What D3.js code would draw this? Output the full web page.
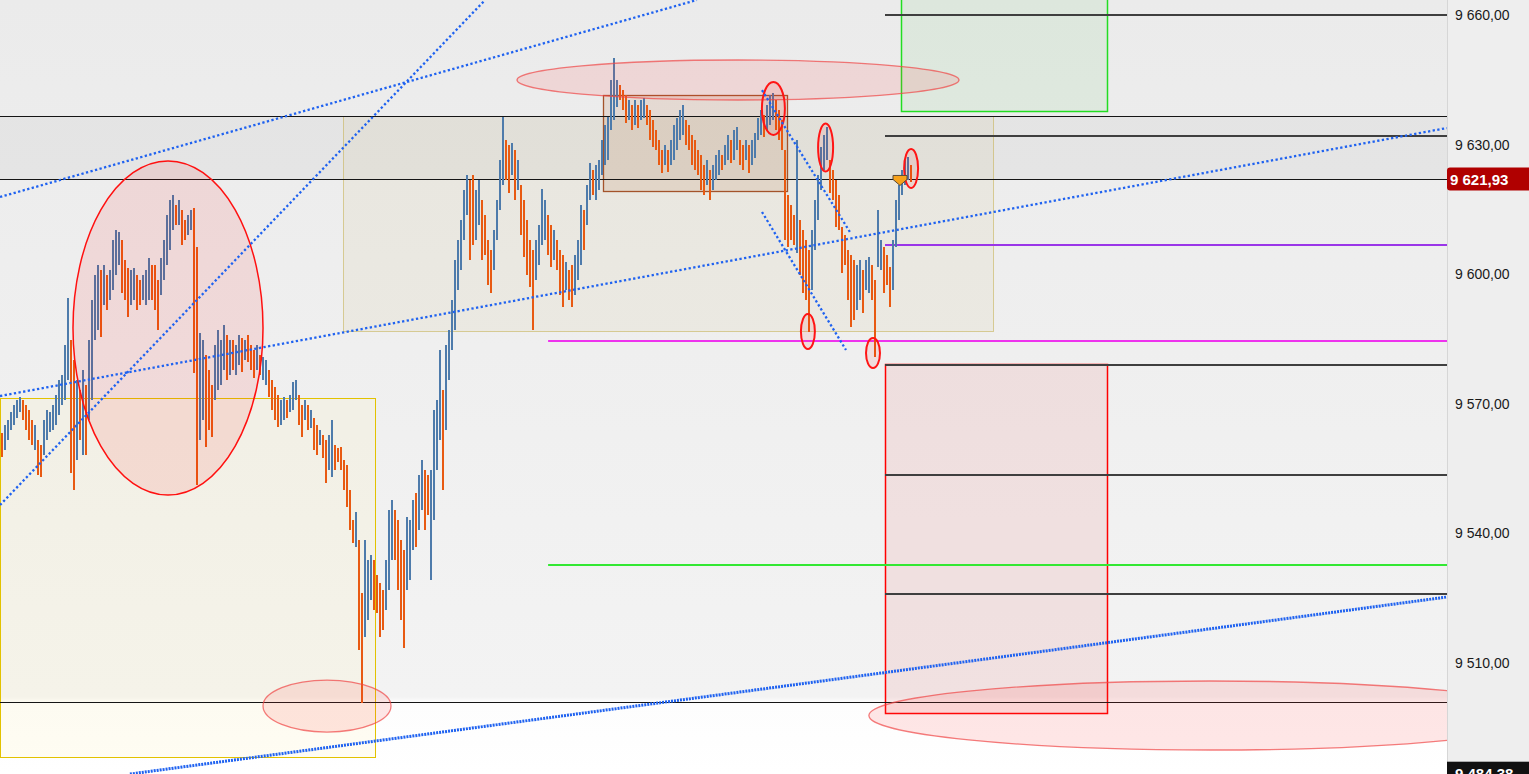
<!DOCTYPE html>
<html><head><meta charset="utf-8">
<script src="https://cdn.jsdelivr.net/npm/d3@7"></script>
<style>html,body{margin:0;padding:0;overflow:hidden;background:#fff}svg{display:block}</style>
</head><body><svg id="c" width="1529" height="774"></svg>
<script>
// ---------- DATA (price bars, one per time step) ----------
const highs = [
9563.3,9565.1,9566.3,9568.1,9569.7,9570.9,9571.6,9570.9,9569.7,9568.6,
9566.3,9565.1,9561.6,9560.5,9566.3,9568.6,9568.1,9569.7,9572.0,9575.5,
9576.7,9583.6,9594.5,9584.8,9580.2,9575.5,9573.2,9577.8,9574.4,9584.8,
9594.1,9599.8,9602.2,9601.0,9602.2,9599.8,9601.0,9607.9,9610.3,9609.8,
9607.9,9603.3,9601.5,9601.0,9601.5,9599.8,9598.7,9599.8,9601.0,9603.8,
9602.2,9602.2,9598.7,9603.8,9607.9,9613.7,9617.2,9618.4,9616.0,9617.2,
9614.9,9612.6,9613.7,9614.9,9615.3,9606.3,9586.4,9584.8,9581.3,9577.8,
9574.4,9583.6,9587.1,9584.8,9588.3,9585.9,9584.8,9584.8,9583.6,9585.9,
9585.3,9584.8,9585.9,9583.6,9582.5,9583.6,9581.3,9580.9,9580.2,9577.8,
9575.5,9573.9,9572.1,9570.9,9571.6,9570.9,9572.1,9575.1,9575.5,9572.1,
9569.7,9570.9,9569.7,9568.6,9566.7,9565.1,9563.9,9562.8,9561.6,9562.8,
9566.3,9560.5,9559.8,9560.0,9557.0,9555.9,9550.1,9543.1,9545.0,9538.5,
9526.2,9538.5,9533.9,9535.0,9533.9,9530.4,9528.5,9526.9,9533.9,9545.4,
9547.8,9545.4,9543.1,9538.5,9536.2,9543.8,9543.1,9547.8,9549.4,9553.5,
9557.0,9554.7,9553.5,9554.7,9568.6,9570.9,9582.5,9573.2,9583.6,9587.1,
9594.1,9603.3,9607.9,9612.6,9619.5,9623.0,9621.8,9623.0,9619.5,9621.8,
9617.2,9613.7,9607.9,9605.6,9610.3,9617.2,9626.5,9636.4,9631.1,9629.9,
9630.4,9628.8,9626.5,9620.7,9617.2,9612.6,9607.9,9605.6,9607.9,9611.4,
9619.8,9617.2,9613.7,9611.4,9610.3,9607.9,9605.6,9604.5,9602.8,9601.0,
9602.2,9604.5,9607.9,9616.0,9614.9,9620.7,9625.8,9624.1,9625.3,9626.5,
9631.1,9634.6,9636.4,9645.0,9650.1,9645.0,9643.8,9642.7,9641.5,9640.3,
9639.2,9640.3,9639.2,9640.3,9640.8,9639.2,9638.0,9635.7,9633.4,9631.1,
9628.8,9629.9,9628.8,9631.1,9634.6,9636.2,9638.0,9639.2,9635.7,9634.6,
9632.3,9631.1,9628.8,9627.6,9625.3,9626.5,9624.1,9625.3,9627.6,9628.8,
9627.6,9629.9,9632.3,9631.1,9633.4,9634.1,9631.1,9629.9,9631.1,9629.9,
9631.1,9632.7,9636.2,9638.0,9636.9,9639.2,9641.5,9642.0,9640.3,9638.0,
9635.7,9628.8,9618.4,9616.0,9613.7,9631.1,9612.6,9610.3,9607.9,9605.6,
9610.3,9617.2,9623.0,9629.5,9632.3,9634.1,9626.5,9624.1,9621.8,9618.4,
9611.0,9609.1,9605.6,9604.5,9603.3,9602.2,9603.3,9601.0,9603.3,9604.0,
9602.2,9598.7,9614.9,9607.9,9606.3,9604.5,9601.7,9607.9,9617.2,9620.7,
9624.1,9626.5,9627.1,9625.3];
const lows = [
9557.7,9559.3,9561.6,9563.9,9565.1,9566.7,9568.1,9566.3,9563.9,9561.6,
9560.5,9559.3,9553.5,9553.1,9558.2,9561.6,9563.5,9563.9,9565.1,9567.4,
9569.7,9570.9,9575.5,9554.0,9550.1,9557.0,9561.6,9558.2,9558.2,9566.3,
9570.9,9584.8,9587.1,9585.5,9592.9,9591.7,9594.1,9596.4,9599.8,9602.2,
9595.7,9594.1,9590.1,9592.9,9594.1,9591.7,9592.9,9594.1,9592.9,9594.1,
9594.1,9591.7,9587.1,9595.2,9598.7,9602.2,9605.6,9610.3,9611.4,9611.4,
9606.8,9607.9,9609.1,9610.3,9577.1,9551.2,9561.6,9566.3,9560.0,9564.0,
9562.3,9570.9,9573.2,9574.4,9577.8,9575.5,9576.7,9577.8,9576.7,9579.0,
9577.4,9580.2,9579.7,9577.8,9576.0,9577.8,9576.7,9575.5,9574.4,9571.6,
9568.6,9566.3,9564.7,9565.1,9566.3,9566.7,9568.1,9568.6,9570.9,9565.1,
9562.3,9566.3,9563.9,9564.4,9559.3,9558.2,9560.5,9557.5,9551.7,9554.7,
9553.1,9554.7,9556.5,9554.7,9550.1,9546.1,9540.8,9537.8,9536.9,9513.0,
9500.8,9516.0,9520.0,9524.6,9522.3,9521.6,9516.0,9517.7,9522.3,9526.9,
9533.9,9533.9,9526.9,9520.0,9513.5,9527.0,9529.2,9536.2,9536.9,9540.8,
9545.4,9540.8,9544.3,9529.2,9543.1,9554.7,9561.6,9550.1,9564.0,9575.5,
9582.5,9587.1,9596.4,9601.0,9607.9,9613.7,9603.3,9606.8,9607.9,9611.4,
9603.3,9604.5,9597.5,9595.7,9601.0,9607.9,9614.9,9620.7,9621.8,9618.8,
9623.0,9617.2,9619.5,9609.1,9604.0,9599.8,9597.1,9587.1,9598.7,9602.2,
9606.8,9607.9,9604.5,9601.7,9603.3,9601.0,9595.2,9592.4,9596.4,9594.1,
9592.4,9595.2,9598.7,9602.2,9605.6,9611.4,9617.2,9618.4,9617.2,9619.5,
9623.0,9625.3,9626.5,9633.4,9635.7,9638.7,9640.3,9638.0,9635.0,9635.7,
9633.4,9634.6,9633.9,9635.7,9636.2,9634.6,9631.1,9629.5,9628.8,9625.3,
9623.4,9625.3,9623.7,9625.3,9626.5,9628.8,9631.1,9632.3,9629.9,9628.8,
9625.3,9624.1,9623.0,9619.5,9618.4,9620.7,9617.2,9619.5,9621.8,9623.0,
9624.1,9625.3,9626.5,9625.8,9626.5,9628.8,9625.3,9624.1,9626.5,9623.4,
9625.3,9626.9,9631.1,9632.3,9631.8,9633.4,9634.6,9635.7,9633.4,9631.1,
9628.8,9607.9,9606.3,9607.9,9606.8,9605.0,9599.8,9595.7,9594.1,9586.6,
9596.4,9605.6,9612.6,9619.5,9624.1,9626.5,9618.8,9617.2,9611.0,9610.3,
9600.3,9602.2,9594.1,9587.8,9589.4,9591.7,9594.1,9591.0,9596.4,9595.7,
9594.1,9580.9,9601.7,9601.0,9595.7,9597.5,9592.4,9596.4,9606.3,9612.6,
9618.4,9620.7,9621.8,9621.3];
// 1 = up bar (blue), 0 = down bar (orange)
const dirs = [
0,1,1,1,1,1,1,0,0,0, 0,1,0,0,1,1,1,1,1,1, 1,1,1,0,0,1,0,1,0,1, 1,1,1,0,1,0,1,1,1,1,
0,0,0,1,1,0,0,1,1,1, 0,0,0,1,1,1,1,1,0,1, 0,0,1,1,0,0,1,1,0,0, 0,1,1,1,1,0,1,0,1,1,
0,1,0,0,0,1,0,1,1,0, 0,0,0,1,1,0,1,1,1,0, 0,1,0,1,0,0,1,0,0,1, 1,0,0,0,0,0,0,0,1,0,
0,1,1,1,0,0,0,0,1,1, 1,0,0,0,0,1,1,1,0,1, 1,0,0,1,1,1,1,0,1,1, 1,1,1,1,1,1,0,0,1,1,
0,0,0,0,1,1,1,1,0,0, 1,0,1,0,0,0,0,0,1,1, 1,1,0,0,1,0,0,0,1,0, 0,1,1,1,0,1,1,0,1,1,
1,1,1,1,1,1,0,0,0,1, 0,1,0,1,1,0,0,0,0,0, 0,1,0,1,1,1,1,1,0,0, 0,0,0,0,0,1,0,1,1,1,
0,1,1,0,1,1,0,0,1,0, 1,1,1,1,0,1,1,1,0,0, 0,0,0,0,0,1,0,0,0,0, 1,1,1,1,1,1,0,0,0,0,
0,0,0,0,0,1,1,0,1,1, 0,0,1,1,0,0,0,1,1,1, 1,1,1,0];

const axisTicks = [9660, 9630, 9600, 9570, 9540, 9510];
const lastPrice = 9621.93;
const bottomPrice = 9484.38;
const priceTop = 9663.47, priceBottom = 9484.31;

// Horizontal levels (prices)
const blackLevels = [9636.6, 9621.93, 9500.97];
const grayLevels = [9660.0, 9632.1, 9578.98, 9553.52, 9525.97];
const purpleLevel = 9606.76;
const magentaLevel = 9584.53;
const greenLevel = 9532.68;
const levelStartRight = 294.5;   // bar index where right-side levels start
const levelStartMid = 182.2;

// Zones: [startIdx, endIdx, topPrice, bottomPrice]
const yellowZone = [-0.5, 124.5, 9571.34, 9488.23];
const beigeZone = [113.8, 330.5, 9636.6, 9586.85];
const brownZone = [200.5, 261.8, 9641.48, 9619.26];
const greenZone = [299.8, 368.5, 9666.0, 9637.78];
const redZone = [294.5, 368.5, 9579.21, 9498.42];

// Ellipses: [centerIdx, centerPrice, radiusBars, radiusPoints]
const bigEllipse = [55.5, 9587.54, 31.67, 38.66];
const softEllipses = [
  [245.5, 9644.95, 73.67, 4.63],
  [108.5, 9500.04, 21.33, 6.02],
  [402.8, 9497.85, 113.67, 7.99]
];
const smallEllipses = [
  [257.3, 9638.36, 3.83, 6.13],
  [274.7, 9629.33, 2.5, 5.56],
  [268.8, 9586.74, 2.33, 4.05],
  [290.5, 9581.76, 2.33, 3.47],
  [303.2, 9624.47, 2.33, 4.51]
];
// Trend lines: [idx1, price1, idx2, price2]
const trendLines = [
  [-0.5, 9617.87, 231.8, 9663.47],
  [-0.5, 9546.57, 161.2, 9663.47],
  [-0.5, 9571.80, 481.8, 9633.84],
  [253.5, 9642.6, 282.8, 9609.77],
  [253.5, 9614.40, 281.5, 9582.45]
];
const supportLine = [42.8, 9484.30, 481.8, 9525.28];
const markerIdx = 299.5;

// ---------- DRAW ----------
const W = 1529, H = 774, plotW = 1447;
const svg = d3.select("#c");
const x = d3.scaleLinear().domain([-0.5, plotW / 3 - 0.5]).range([0, plotW]);
const y = d3.scaleLinear().domain([priceBottom, priceTop]).range([H, 0]);

const defs = svg.append("defs");
const grad = defs.append("linearGradient").attr("id", "bg").attr("x1", 0).attr("y1", 0).attr("x2", 0).attr("y2", 1);
grad.append("stop").attr("offset", "0%").attr("stop-color", "#ebebeb");
grad.append("stop").attr("offset", "90%").attr("stop-color", "#f3f3f3");
grad.append("stop").attr("offset", "90.8%").attr("stop-color", "#fdfdfd");
grad.append("stop").attr("offset", "100%").attr("stop-color", "#ffffff");
defs.append("clipPath").attr("id", "plot").append("rect").attr("x", 0).attr("y", 0).attr("width", plotW).attr("height", H);

svg.append("rect").attr("width", W).attr("height", H).attr("fill", "url(#bg)");
const g = svg.append("g").attr("clip-path", "url(#plot)");

// band between first black levels
g.append("rect").attr("x", 0).attr("width", plotW)
  .attr("y", y(blackLevels[0])).attr("height", y(blackLevels[1]) - y(blackLevels[0]))
  .attr("fill", "rgba(0,0,0,0.03)");

function zone(z, fill, stroke, sw) {
  const x0 = Math.round(x(z[0])) + 0.5, x1 = Math.round(x(z[1])) + 0.5;
  const y0 = Math.round(y(z[2])) + 0.5, y1 = Math.round(y(z[3])) + 0.5;
  return g.append("rect")
    .attr("x", x0).attr("y", y0)
    .attr("width", x1 - x0).attr("height", y1 - y0)
    .attr("fill", fill).attr("stroke", stroke).attr("stroke-width", sw);
}
zone(yellowZone, "rgba(255,245,190,0.18)", "#e2c200", 1);
zone(beigeZone, "rgba(205,190,120,0.10)", "rgba(200,180,90,0.6)", 1);
zone(brownZone, "rgba(175,95,40,0.13)", "#a3532a", 1.3);
zone(greenZone, "rgba(40,190,40,0.07)", "#22dd22", 1.5);
zone(redZone, "rgba(230,0,0,0.07)", "#ff0000", 1.5);

// horizontal levels
function hline(p, x0, color, w) {
  g.append("line").attr("x1", x0).attr("x2", plotW)
    .attr("y1", Math.round(y(p)) + (w % 2 ? 0.5 : 0)).attr("y2", Math.round(y(p)) + (w % 2 ? 0.5 : 0))
    .attr("stroke", color).attr("stroke-width", w);
}
blackLevels.forEach(p => hline(p, 0, "#151515", 1));
grayLevels.forEach(p => hline(p, x(levelStartRight), "#3f3f3f", 2));
hline(purpleLevel, x(levelStartRight), "#9a35e8", 2);
hline(magentaLevel, x(levelStartMid), "#ee33ee", 2);
hline(greenLevel, x(levelStartMid), "#33e833", 2);

// price bars
g.append("g").attr("shape-rendering", "crispEdges")
  .selectAll("rect").data(highs.map((h, i) => ({ i, h, l: lows[i], d: dirs[i] })))
  .join("rect")
  .attr("x", d => Math.round(x(d.i)) - 1)
  .attr("width", 2)
  .attr("y", d => y(d.h))
  .attr("height", d => Math.max(1, y(d.l) - y(d.h)))
  .attr("fill", d => d.d ? "#4e7bab" : "#e85a12");

// ellipses
function ell(e, fill, stroke, sw) {
  g.append("ellipse")
    .attr("cx", x(e[0])).attr("cy", y(e[1]))
    .attr("rx", x(e[2]) - x(0)).attr("ry", y(priceBottom) - y(priceBottom + e[3]))
    .attr("fill", fill).attr("stroke", stroke).attr("stroke-width", sw);
}
ell(bigEllipse, "rgba(255,0,0,0.09)", "#ff1010", 1.5);
softEllipses.forEach(e => ell(e, "rgba(255,60,60,0.12)", "rgba(240,70,70,0.7)", 1.3));
smallEllipses.forEach(e => ell(e, "rgba(255,0,0,0.08)", "#ff1515", 2));

// dotted trend lines
trendLines.forEach(t => {
  g.append("line").attr("x1", x(t[0])).attr("y1", y(t[1])).attr("x2", x(t[2])).attr("y2", y(t[3]))
    .attr("stroke", "#1f62f0").attr("stroke-width", 2.3).attr("stroke-dasharray", "2.3,2.4");
});
g.append("line").attr("x1", x(supportLine[0])).attr("y1", y(supportLine[1]))
  .attr("x2", x(supportLine[2])).attr("y2", y(supportLine[3]))
  .attr("stroke", "#1f62f0").attr("stroke-width", 3).attr("stroke-dasharray", "2,1");

// last-price marker
const mx = x(markerIdx), my = y(lastPrice);
g.append("path")
  .attr("d", `M${mx-7},${my-4} L${mx+7},${my-4} L${mx+7},${my} L${mx},${my+6} L${mx-7},${my} Z`)
  .attr("fill", "#f7a21b").attr("stroke", "#5a4a3a").attr("stroke-width", 1);

// right axis panel
svg.append("rect").attr("x", plotW).attr("y", 0).attr("width", W - plotW).attr("height", H).attr("fill", "#eeeeee");
svg.append("line").attr("x1", plotW + 0.5).attr("x2", plotW + 0.5).attr("y1", 0).attr("y2", H)
  .attr("stroke", "#d6d6d6").attr("stroke-width", 1);

const loc = d3.formatLocale({ decimal: ",", thousands: " ", grouping: [3], currency: ["", ""] });
const fmt = loc.format(",.2f");
const axis = d3.axisRight(y).tickValues(axisTicks).tickSize(0).tickPadding(8).tickFormat(fmt);
const ag = svg.append("g").attr("transform", `translate(${plotW},0)`).call(axis);
ag.select(".domain").remove();
ag.selectAll("text").attr("font-family", "'Liberation Sans', Arial, sans-serif")
  .attr("font-size", 14).attr("fill", "#1a1a1a");

// price labels
const ly = y(lastPrice);
svg.append("rect").attr("x", plotW).attr("y", ly - 12).attr("width", W - plotW + 4).attr("height", 23)
  .attr("rx", 3).attr("fill", "#b00000");
svg.append("text").attr("x", plotW + 3).attr("y", ly + 5.5).text(fmt(lastPrice))
  .attr("font-family", "'Liberation Sans', Arial, sans-serif").attr("font-size", 15)
  .attr("font-weight", "bold").attr("fill", "#ffffff");
const by = y(bottomPrice);
svg.append("rect").attr("x", plotW).attr("y", by - 12).attr("width", W - plotW).attr("height", 24)
  .attr("fill", "#111111");
svg.append("text").attr("x", plotW + 8).attr("y", by + 5.5).text(fmt(bottomPrice))
  .attr("font-family", "'Liberation Sans', Arial, sans-serif").attr("font-size", 15)
  .attr("font-weight", "bold").attr("fill", "#ffffff");
</script></body></html>
